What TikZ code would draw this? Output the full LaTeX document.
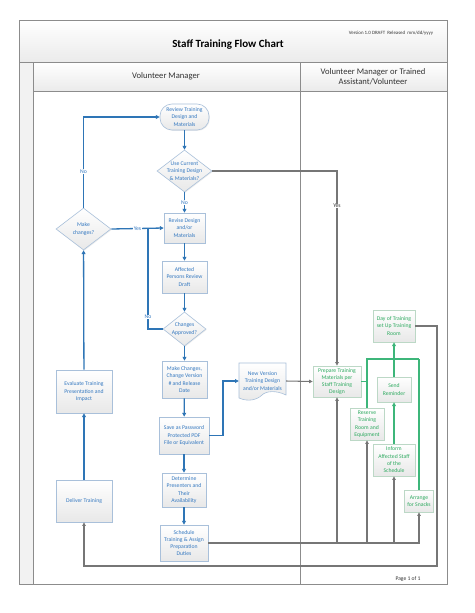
\documentclass[tikz,border=0pt]{standalone}
\usepackage{fontspec}
\setmainfont{Carlito}
\usetikzlibrary{arrows.meta,shapes.geometric,shadows}
\definecolor{bl}{HTML}{2E75B6}
\definecolor{bltext}{HTML}{3478C0}
\definecolor{grl}{HTML}{3DB67A}
\definecolor{grtext}{HTML}{2EAA60}
\definecolor{framec}{HTML}{8C8C8C}
\definecolor{conn}{HTML}{767676}
\definecolor{tipc}{HTML}{404040}
\definecolor{nbord}{HTML}{A9C0DA}
\definecolor{gbord}{HTML}{BCD8C6}
\definecolor{hdr}{HTML}{333333}
\tikzset{
  nfont/.style={font=\fontsize{5.7}{7.3}\selectfont},
  box/.style={draw=nbord, line width=0.6pt, top color=white, bottom color=black!9,
    text=bltext, nfont, align=center, inner sep=1pt,
    drop shadow={opacity=0.15,shadow xshift=0.8pt,shadow yshift=-0.8pt}},
  gbox/.style={box, draw=gbord, text=grtext},
  dia/.style={box, diamond, inner sep=0pt},
  dtext/.style={text=bltext, nfont, align=center},
  bla/.style={draw=bl, line width=1.3pt, -{Triangle[length=3.8pt,width=3.8pt]}},
  bll/.style={draw=bl, line width=1.3pt},
  gra/.style={draw=conn, line width=1.05pt, -{Triangle[length=3.6pt,width=3.4pt,fill=tipc]}},
  grl/.style={draw=conn, line width=1.05pt},
  gna/.style={draw=grl, line width=1.4pt, -{Triangle[length=3.8pt,width=3.8pt]}},
  gnl/.style={draw=grl, line width=1.4pt},
  lbl/.style={nfont, text=bltext, fill=white, inner sep=0.5pt},
  glbl/.style={nfont, text=hdr, fill=white, inner sep=0.5pt},
}
\begin{document}
\begin{tikzpicture}[x=1pt,y=-1pt]
\useasboundingbox (0,0) rectangle (474,613);
\fill[white] (0,0) rectangle (474,613);
% frame
\shade[top color=white, bottom color=black!8] (19,20) rectangle (447,62);
\shade[top color=white, bottom color=black!8] (33,62) rectangle (447,91);
\fill[black!5] (19,62) rectangle (33,584);
\draw[framec, line width=0.8pt] (19,20) rectangle (447,584);
\draw[framec, line width=0.8pt] (19,62) -- (447,62);
\draw[framec, line width=0.8pt] (33,91) -- (447,91);
\draw[framec, line width=0.8pt] (33,62) -- (33,584);
\draw[framec, line width=0.8pt] (300,62) -- (300,584);
\node[font=\bfseries\fontsize{11}{13}\selectfont, text=black] (title) at (228,45) {Staff Training Flow Chart};
\node[font=\fontsize{4.9}{6}\selectfont, text=hdr] (ver) at (391,33) {Version 1.0 DRAFT\ \ Released\ \ mm/dd/yyyy};
\node[font=\fontsize{8.6}{10.5}\selectfont, text=hdr] (h1) at (166,76.5) {Volunteer Manager};
\node[font=\fontsize{8.6}{10.5}\selectfont, text=hdr, align=center] (h2) at (373,76.5) {Volunteer Manager or Trained\\Assistant/Volunteer};
\node[font=\fontsize{5.6}{7}\selectfont, text=hdr] (pg) at (408,579) {Page 1 of 1};

% left lane nodes
\node[box, rounded corners=12pt, minimum width=49pt, minimum height=26pt] (rev) at (184.5,117) {Review Training\\Design and\\Materials};
\node[dia, minimum width=55pt, minimum height=42pt] (use) at (184.5,171) {};
\node[dtext] (uset) at (use) {Use Current\\Training Design\\\& Materials?};
\node[box, minimum width=41pt, minimum height=30pt] (revise) at (184.5,228) {Revise Design\\and/or\\Materials};
\node[dia, minimum width=55pt, minimum height=42pt] (mc) at (83.5,229) {};
\node[dtext] (mct) at (mc) {Make\\changes?};
\node[box, minimum width=45pt, minimum height=32pt] (aff) at (184.5,277) {Affected\\Persons Review\\Draft};
\node[dia, minimum width=43pt, minimum height=34pt] (ca) at (184.5,329) {};
\node[dtext] (cat) at (ca) {Changes\\Approved?};
\node[box, minimum width=45pt, minimum height=37pt] (mkc) at (184.5,379.5) {Make Changes,\\Change Version\\\# and Release\\Date};
\node[box, minimum width=50pt, minimum height=37pt] (save) at (184,435.5) {Save as Password\\Protected PDF\\File or Equivalent};
\node[box, minimum width=44pt, minimum height=34pt] (det) at (184,490) {Determine\\Presenters and\\Their\\Availability};
\node[box, minimum width=48pt, minimum height=36pt] (sch) at (184,543) {Schedule\\Training \& Assign\\Preparation\\Duties};
\node[box, minimum width=56pt, minimum height=43pt] (eval) at (84,391.5) {Evaluate Training\\Presentation and\\Impact};
\node[box, minimum width=56pt, minimum height=42pt] (dlv) at (84,501) {Deliver Training};

% document shape
\shade[top color=white, bottom color=black!9, draw=nbord, line width=0.6pt]
  (239,363) -- (286,363) -- (286,395) .. controls (276,390) and (266,391) .. (262,395)
  .. controls (257,400) and (248,402) .. (239,398) -- cycle;
\node[dtext, minimum width=47pt, minimum height=36pt, inner sep=0pt] (nv) at (262.5,381) {New Version\\Training Design\\and/or Materials};

% right lane nodes
\node[gbox, minimum width=42pt, minimum height=32pt] (day) at (394,326) {Day of Training\\set Up Training\\Room};
\node[gbox, minimum width=48pt, minimum height=31pt] (prep) at (337,381.5) {Prepare Training\\Materials per\\Staff Training\\Design};
\node[gbox, minimum width=34pt, minimum height=25pt] (send) at (394,389.5) {Send\\Reminder};
\node[gbox, minimum width=34pt, minimum height=32pt] (res) at (367,424) {Reserve\\Training\\Room and\\Equipment};
\node[gbox, minimum width=42pt, minimum height=32pt] (inf) at (394,460) {Inform\\Affected Staff\\of the\\Schedule};
\node[gbox, minimum width=29pt, minimum height=22pt] (arr) at (419,501) {Arrange\\for Snacks};

% coordinates
\coordinate (j1) at (148,228);
\coordinate (j2) at (223,435.5);
\coordinate (c1) at (437,566);
\coordinate (g1) at (367,359);
\coordinate (g2) at (419,359);

% blue connectors
\draw[bla] (rev) -- (use);
\draw[bla] (use) -- node[lbl]{No} (revise);
\draw[bla] (mc.east) -- node[lbl]{Yes} (revise.west);
\draw[bla] (mc.north) |- node[lbl, pos=0.2]{No} (rev.west);
\draw[bll] (ca.west) -| node[lbl, pos=0.56]{No} (j1);
\draw[bla] (revise) -- (aff);
\draw[bla] (aff) -- (ca);
\draw[bla] (ca) -- (mkc);
\draw[bla] (mkc) -- (save);
\draw[bla] (save) -- (det);
\draw[bla] (det) -- (sch);
\draw[bla] (save.east) -- (j2) |- (nv.west);
\draw[bla] (dlv) -- (eval);
\draw[bla] (eval) -- (mc);

% gray connectors
\draw[gra] (use.east) -| node[glbl, pos=0.59]{Yes} (prep.north);
\draw[gra] (nv.east) -- (prep.west);
\draw[gra] (sch.east) -| (arr.south);
\draw[gra] (prep.south |- sch.east) -- (prep.south);
\draw[gra] (res.south |- sch.east) -- (res.south);
\draw[gra] (inf.south |- sch.east) -- (inf.south);
\draw[gra] (day.east) -| (c1) -| (dlv.south);

% green connectors
\draw[gnl] (prep.east) -| (g1) -- (g2);
\draw[gnl] (res.north) -- (res.north |- g1);
\draw[gnl] (arr.north) -- (arr.north |- g2);
\draw[gna] (send) -- (day);
\draw[gna] (inf) -- (send);
\end{tikzpicture}
\end{document}
